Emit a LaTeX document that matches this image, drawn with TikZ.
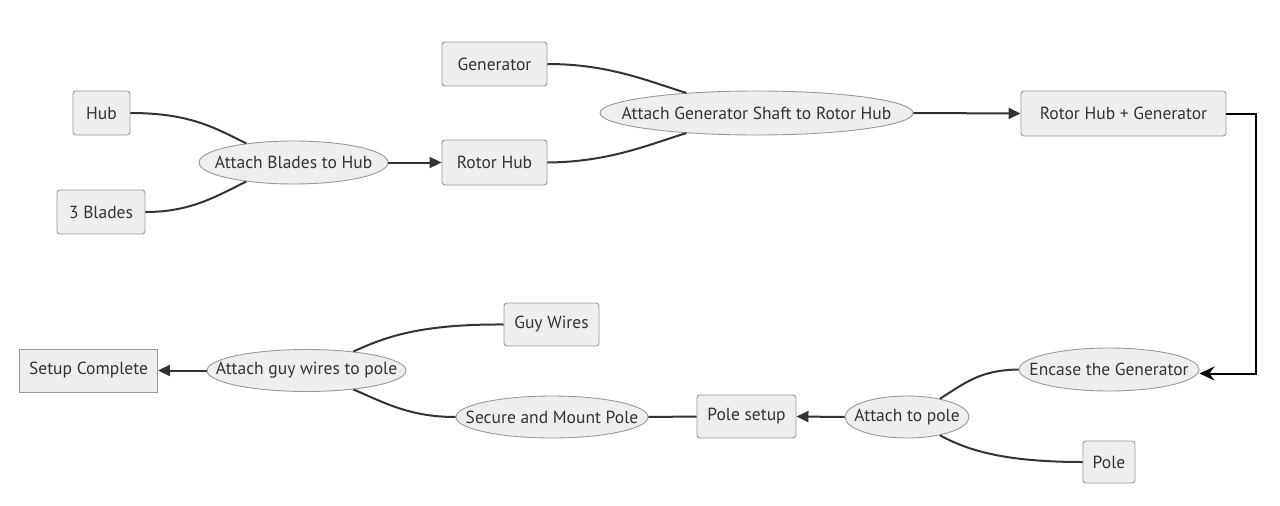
\documentclass[tikz,border=0pt]{standalone}
\usepackage{fontspec}
\setmainfont{PT Sans}
\usetikzlibrary{shapes.geometric,arrows.meta}
\definecolor{nodefill}{HTML}{EEEEEE}
\definecolor{nodeline}{HTML}{999999}
\definecolor{edgecol}{HTML}{333333}
\definecolor{txt}{HTML}{333333}
\tikzset{
  box/.style={draw=nodeline, fill=nodefill, rounded corners=3pt, line width=0.9pt,
    inner sep=0pt, text=txt, font=\fontsize{17.5}{21}\selectfont},
  sqbox/.style={box, rounded corners=0pt},
  oval/.style={ellipse, draw=nodeline, fill=nodefill, line width=0.9pt,
    inner sep=0pt, text=txt, font=\fontsize{17.5}{21}\selectfont},
  link/.style={draw=edgecol, line width=2pt},
  arr/.style={link, -{Triangle[length=12pt,width=11pt]}},
  arrb/.style={draw=black, line width=2pt, -{Stealth[length=15pt,width=14pt,inset=5pt]}},
}
\newcommand{\zw}[1]{\makebox[0pt]{#1}}
\begin{document}
\begin{tikzpicture}[x=1pt,y=-1pt]
\useasboundingbox (0,0) rectangle (1280,506);
% nodes
\node[box, minimum width=57pt, minimum height=44pt] (hub) at (101.5,113) {Hub};
\node[box, minimum width=88pt, minimum height=44pt] (blades) at (101,212) {3 Blades};
\node[oval, minimum width=189pt, minimum height=43pt] (abh) at (293.5,162.5) {\zw{Attach Blades to Hub}};
\node[box, minimum width=105pt, minimum height=45pt] (rh) at (494.5,162.5) {Rotor Hub};
\node[box, minimum width=105pt, minimum height=44pt] (gen) at (494.5,64) {Generator};
\node[oval, minimum width=313pt, minimum height=44pt] (ags) at (756.5,113) {\zw{Attach Generator Shaft to Rotor Hub}};
\node[box, minimum width=205pt, minimum height=45pt] (rhg) at (1123.5,113.5) {Rotor Hub + Generator};
\node[oval, minimum width=180pt, minimum height=43pt] (enc) at (1109,369.5) {\zw{Encase the Generator}};
\node[oval, minimum width=124pt, minimum height=42pt] (atp) at (907,417) {\zw{Attach to pole}};
\node[box, minimum width=52pt, minimum height=42pt] (pole) at (1109,462) {Pole};
\node[box, minimum width=99pt, minimum height=43pt] (ps) at (746.5,416.5) {Pole setup};
\node[oval, minimum width=192pt, minimum height=42pt] (sec) at (552,417) {\zw{Secure and Mount Pole}};
\node[box, minimum width=95pt, minimum height=43pt] (guy) at (551.5,324.5) {Guy Wires};
\node[oval, minimum width=199pt, minimum height=42pt] (agw) at (306.5,370.5) {\zw{Attach guy wires to pole}};
\node[sqbox, minimum width=138pt, minimum height=43pt] (sc) at (88.5,370.5) {Setup Complete};
% edges
\draw[link] (hub.east) .. controls (190,113) and (215,128) .. (abh.158);
\draw[link] (blades.east) .. controls (190,212) and (215,197) .. (abh.202);
\draw[arr] (abh.east) -- (rh.west);
\draw[link] (gen.east) .. controls (610,64) and (650,82) .. (ags.164);
\draw[link] (rh.east) .. controls (610,162) and (650,144) .. (ags.196);
\draw[arr] (ags.east) -- (rhg.west);
\draw[arrb] (rhg.east) -- ++(30,0) |- ([yshift=-4pt]enc.east);
\draw[link] (enc.west) .. controls (980,370) and (965,383) .. (atp.29);
\draw[link] (pole.west) .. controls (1010,462) and (970,452) .. (atp.-29);
\draw[arr] (atp.west) -- (ps.east);
\draw[link] (ps.west) -- (sec.east);
\draw[link] (sec.west) .. controls (410,417) and (385,403) .. (agw.-22);
\draw[link] (guy.west) .. controls (420,324) and (385,337) .. (agw.22);
\draw[arr] (agw.west) -- (sc.east);
\end{tikzpicture}
\end{document}
